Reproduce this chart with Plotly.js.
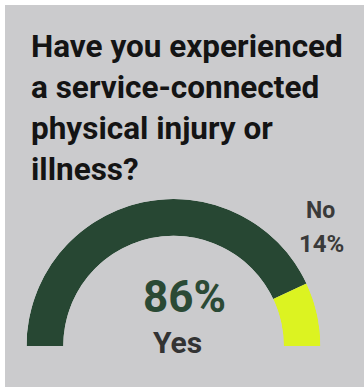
<!DOCTYPE html>
<html>
<head>
<meta charset="utf-8">
<script src="https://cdn.plot.ly/plotly-3.0.1.min.js"></script>
<style>
  html, body { margin: 0; padding: 0; background: #ffffff; width: 364px; height: 388px; overflow: hidden; }
  #chart { position: absolute; left: 5px; top: 5px; width: 359px; height: 382px; }
</style>
</head>
<body>
<div id="chart"></div>
<script>
// ---- data ----
const categories = ["Yes", "No"];
const shares = [86, 14];           // percent
const colors = ["#274733", "#dcf321"];
const titleText = "Have you experienced<br>a service-connected<br>physical injury or<br>illness?";

// ---- build gauge (half circle, Yes from the left over the top, No ending at the right) ----
const total = shares.reduce((a, b) => a + b, 0);
let start = 180;  // degrees, left end
const thetas = [], widths = [];
shares.forEach(v => {
  const w = 180 * v / total;
  thetas.push(start - w / 2);
  widths.push(w);
  start -= w;
});

const trace = {
  type: "barpolar",
  r: shares.map(() => 1),
  theta: thetas,
  width: widths,
  thetaunit: "degrees",
  marker: { color: colors, line: { width: 0 } },
  text: categories,
  hoverinfo: "text",
  showlegend: false
};

const W = 359, H = 382;
const cx = 168.5, baseY = 341, R = 147;
const layout = {
  width: W, height: H,
  margin: { l: 0, r: 0, t: 0, b: 0 },
  paper_bgcolor: "#cbcbcd",
  plot_bgcolor: "#cbcbcd",
  showlegend: false,
  title: {
    text: titleText,
    x: 26 / W, xref: "paper", xanchor: "left",
    y: 1 - 52 / H, yref: "container", yanchor: "top",
    font: { family: "Roboto, 'Open Sans', sans-serif", size: 31.5, weight: 700, color: "#141414" }
  },
  polar: {
    domain: { x: [(cx - R) / W, (cx + R) / W], y: [(H - baseY) / H, (H - baseY + R) / H] },
    sector: [0, 180],
    hole: 0.75,
    bgcolor: "rgba(0,0,0,0)",
    radialaxis: { visible: false, range: [0, 1], showgrid: false, showline: false, showticklabels: false, ticks: "" },
    angularaxis: { visible: false, showgrid: false, showline: false, showticklabels: false, ticks: "", rotation: 0, direction: "counterclockwise" }
  },
  annotations: [
    { text: shares[0] + "%", x: 179 / W, y: (H - 292) / H, xref: "paper", yref: "paper", xanchor: "center", yanchor: "middle", showarrow: false,
      font: { family: "Roboto, sans-serif", size: 44, weight: 700, color: "#2b4a35" } },
    { text: categories[0], x: 172 / W, y: (H - 337) / H, xref: "paper", yref: "paper", xanchor: "center", yanchor: "middle", showarrow: false,
      font: { family: "Roboto, sans-serif", size: 30, weight: 700, color: "#333333" } },
    { text: categories[1], x: 315 / W, y: (H - 206) / H, xref: "paper", yref: "paper", xanchor: "center", yanchor: "middle", showarrow: false,
      font: { family: "Roboto, sans-serif", size: 23, weight: 700, color: "#3a3a3a" } },
    { text: shares[1] + "%", x: 316 / W, y: (H - 239) / H, xref: "paper", yref: "paper", xanchor: "center", yanchor: "middle", showarrow: false,
      font: { family: "Roboto, sans-serif", size: 24, weight: 700, color: "#3a3a3a" } }
  ]
};

Plotly.newPlot("chart", [trace], layout, { displayModeBar: false, staticPlot: true });
</script>
</body>
</html>
